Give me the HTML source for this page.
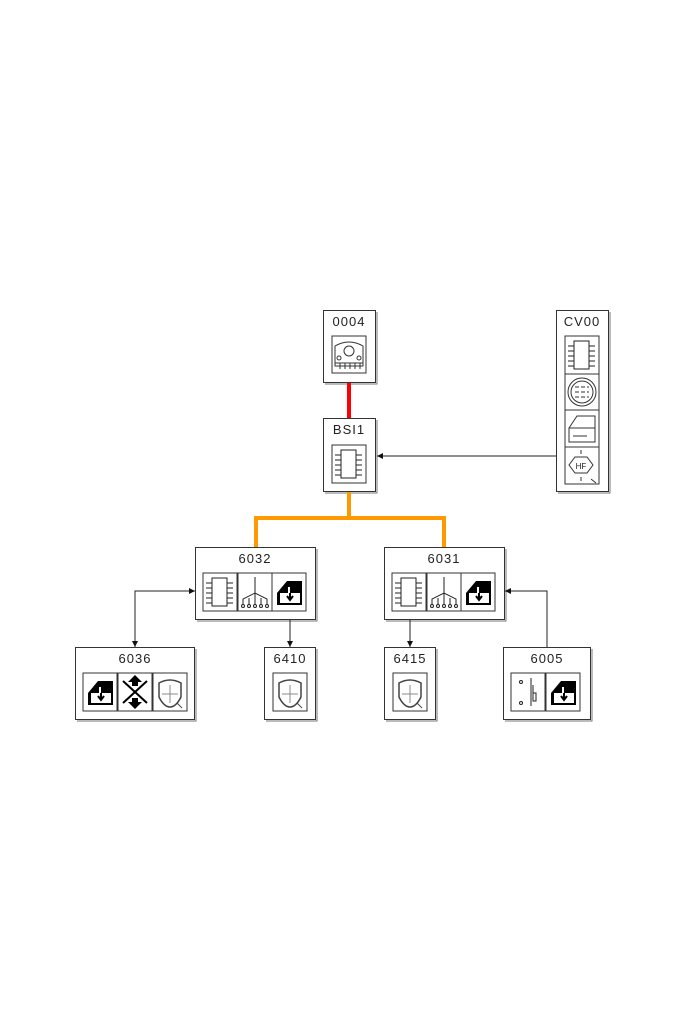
<!DOCTYPE html>
<html><head><meta charset="utf-8"><style>
html,body{margin:0;padding:0;background:#fff}
svg{display:block}
text{font-family:"Liberation Sans",sans-serif;font-size:13px;fill:#222;letter-spacing:1px}
</style></head><body>
<svg width="700" height="1020" viewBox="0 0 700 1020" xmlns="http://www.w3.org/2000/svg">
<defs>
<marker id="ar" viewBox="0 0 10 10" refX="10" refY="5" markerWidth="9" markerHeight="6" orient="auto" markerUnits="userSpaceOnUse"><path d="M0,0L10,5L0,10z" fill="#111"/></marker>
<g id="chip"><rect x="0" y="0" width="34" height="38" fill="#fff" stroke="#333"/><rect x="9" y="5" width="15" height="28" fill="#fff" stroke="#222"/><path d="M3,10h6M3,15h6M3,20h6M3,25h6M3,30h6M24,10h6M24,15h6M24,20h6M24,25h6M24,30h6" stroke="#222"/></g>
<g id="tree"><rect x="0" y="0" width="34" height="38" fill="#fff" stroke="#333"/><path d="M17,4v16M5,32v-6l12,-6l12,6v6M11,32v-7M17,32v-12M23,32v-7" stroke="#222" fill="none"/><circle cx="5" cy="33" r="1.5" fill="none" stroke="#222"/><circle cx="11" cy="33" r="1.5" fill="none" stroke="#222"/><circle cx="17" cy="33" r="1.5" fill="none" stroke="#222"/><circle cx="23" cy="33" r="1.5" fill="none" stroke="#222"/><circle cx="29" cy="33" r="1.5" fill="none" stroke="#222"/></g>
<g id="box"><rect x="0" y="0" width="34" height="38" fill="#fff" stroke="#333"/><path d="M5,20l10,-12h15v24h-25z" fill="#000"/><path d="M8,20h20v10h-20z" fill="#fff"/><path d="M17,14v10M14,21l3,4l3,-4" stroke="#fff" stroke-width="2" fill="none"/><path d="M18,20v6M15,23l3,4l3,-4" stroke="#000" stroke-width="2" fill="none"/></g>
<g id="key"><rect x="0" y="0" width="34" height="38" fill="#fff" stroke="#333"/><path d="M6,10q11,-6 22,0v14q-5,10 -11,10q-6,0 -11,-10z" fill="none" stroke="#444" stroke-width="1.5"/><path d="M17,12v18M9,21h16" stroke="#888"/><path d="M24,30l5,5" stroke="#444"/></g>
<g id="cross"><rect x="0" y="0" width="34" height="38" fill="#fff" stroke="#333"/><path d="M5,8l24,22M29,8l-24,22" stroke="#000" stroke-width="2"/><path d="M17,2l7,7h-4v4h-6v-4h-4z" fill="#000"/><path d="M17,36l7,-7h-4v-4h-6v4h-4z" fill="#000"/></g>
<g id="door"><rect x="0" y="0" width="34" height="38" fill="#fff" stroke="#333"/><circle cx="10" cy="9" r="1.5" fill="none" stroke="#222"/><circle cx="10" cy="30" r="1.5" fill="none" stroke="#222"/><path d="M20,5v28M22,12v16h3v-8h-3" stroke="#222" fill="none"/></g>
</defs>
<g fill="#fff" stroke="#333">
<!-- shadows -->
<g stroke="#777"><path d="M377,312V384H325M377,420V493H325M610,312V493H558M317,549V621H197M506,549V621H386M196,649V721H77M317,649V721H266M437,649V721H386M592,649V721H505"/></g>
<rect x="323.5" y="310.5" width="52" height="72"/>
<rect x="323.5" y="418.5" width="52" height="73"/>
<rect x="556.5" y="310.5" width="52" height="181"/>
<rect x="195.5" y="547.5" width="120" height="72"/>
<rect x="384.5" y="547.5" width="120" height="72"/>
<rect x="75.5" y="647.5" width="119" height="72"/>
<rect x="264.5" y="647.5" width="51" height="72"/>
<rect x="384.5" y="647.5" width="51" height="72"/>
<rect x="503.5" y="647.5" width="87" height="72"/>
</g>
<text x="349" y="326" text-anchor="middle">0004</text>
<text x="349" y="434" text-anchor="middle">BSI1</text>
<text x="582" y="326" text-anchor="middle">CV00</text>
<text x="255" y="563" text-anchor="middle">6032</text>
<text x="444" y="563" text-anchor="middle">6031</text>
<text x="135" y="663" text-anchor="middle">6036</text>
<text x="290" y="663" text-anchor="middle">6410</text>
<text x="410" y="663" text-anchor="middle">6415</text>
<text x="547" y="663" text-anchor="middle">6005</text>
<!-- 0004 icon -->
<g transform="translate(332,336)"><rect x="0" y="0" width="34" height="37" fill="#fff" stroke="#333"/><path d="M3,30V10q14,-8 28,0v20z" fill="none" stroke="#333"/><circle cx="17" cy="15" r="5" fill="none" stroke="#333"/><circle cx="7" cy="22" r="2" fill="none" stroke="#333"/><circle cx="27" cy="22" r="2" fill="none" stroke="#333"/><path d="M3,27h28M3,30h28M8,27v6M13,27v6M18,27v6M23,27v6M28,27v6" stroke="#333"/></g>
<!-- BSI1 icon -->
<use href="#chip" x="332" y="445"/>
<!-- CV00 icons -->
<use href="#chip" x="565" y="336"/>
<g transform="translate(565,374)"><rect x="0" y="0" width="34" height="36" fill="#fff" stroke="#333"/><circle cx="17" cy="18" r="14" fill="none" stroke="#333"/><circle cx="17" cy="18" r="11" fill="none" stroke="#333"/><path d="M10,13h14M10,18h14M10,23h14" stroke="#333" stroke-dasharray="4 2"/></g>
<g transform="translate(565,410)"><rect x="0" y="0" width="34" height="37" fill="#fff" stroke="#333"/><path d="M4,18l8,-12h18v26h-26z" fill="none" stroke="#333"/><path d="M4,18h26M8,26h14" stroke="#333"/></g>
<g transform="translate(565,447)"><rect x="0" y="0" width="34" height="37" fill="#fff" stroke="#333"/><path d="M10,10h12l6,8l-6,8h-12l-6,-8z" fill="none" stroke="#333"/><text x="16" y="22" text-anchor="middle" style="font-size:8px;letter-spacing:0">HF</text><path d="M16,3v4M16,30v4M26,32l5,4" stroke="#333"/></g>
<!-- 6032 icons -->
<use href="#chip" x="203" y="573"/><use href="#tree" x="238" y="573"/><use href="#box" x="272" y="573"/>
<use href="#chip" x="392" y="573"/><use href="#tree" x="427" y="573"/><use href="#box" x="461" y="573"/>
<use href="#box" x="83" y="673"/><use href="#cross" x="118" y="673"/><use href="#key" x="153" y="673"/>
<use href="#key" x="273" y="673"/>
<use href="#key" x="393" y="673"/>
<use href="#door" x="511" y="673"/><use href="#box" x="546" y="673"/>
<!-- connectors -->
<path d="M349,383V418" stroke="#f00" stroke-width="4"/>
<path d="M349,492V518H256V547M349,518H444V547" stroke="#f90" stroke-width="4" fill="none"/>
<g stroke="#222" fill="none" stroke-width="1">
<path d="M556,456H377" marker-end="url(#ar)"/>
<path d="M195,591H135V647" marker-end="url(#ar)"/>
<path d="M135,591H195" marker-end="url(#ar)"/>
<path d="M290,620V647" marker-end="url(#ar)"/>
<path d="M410,620V647" marker-end="url(#ar)"/>
<path d="M547,647V591H505" marker-end="url(#ar)"/>
</g>
</svg>
</body></html>
